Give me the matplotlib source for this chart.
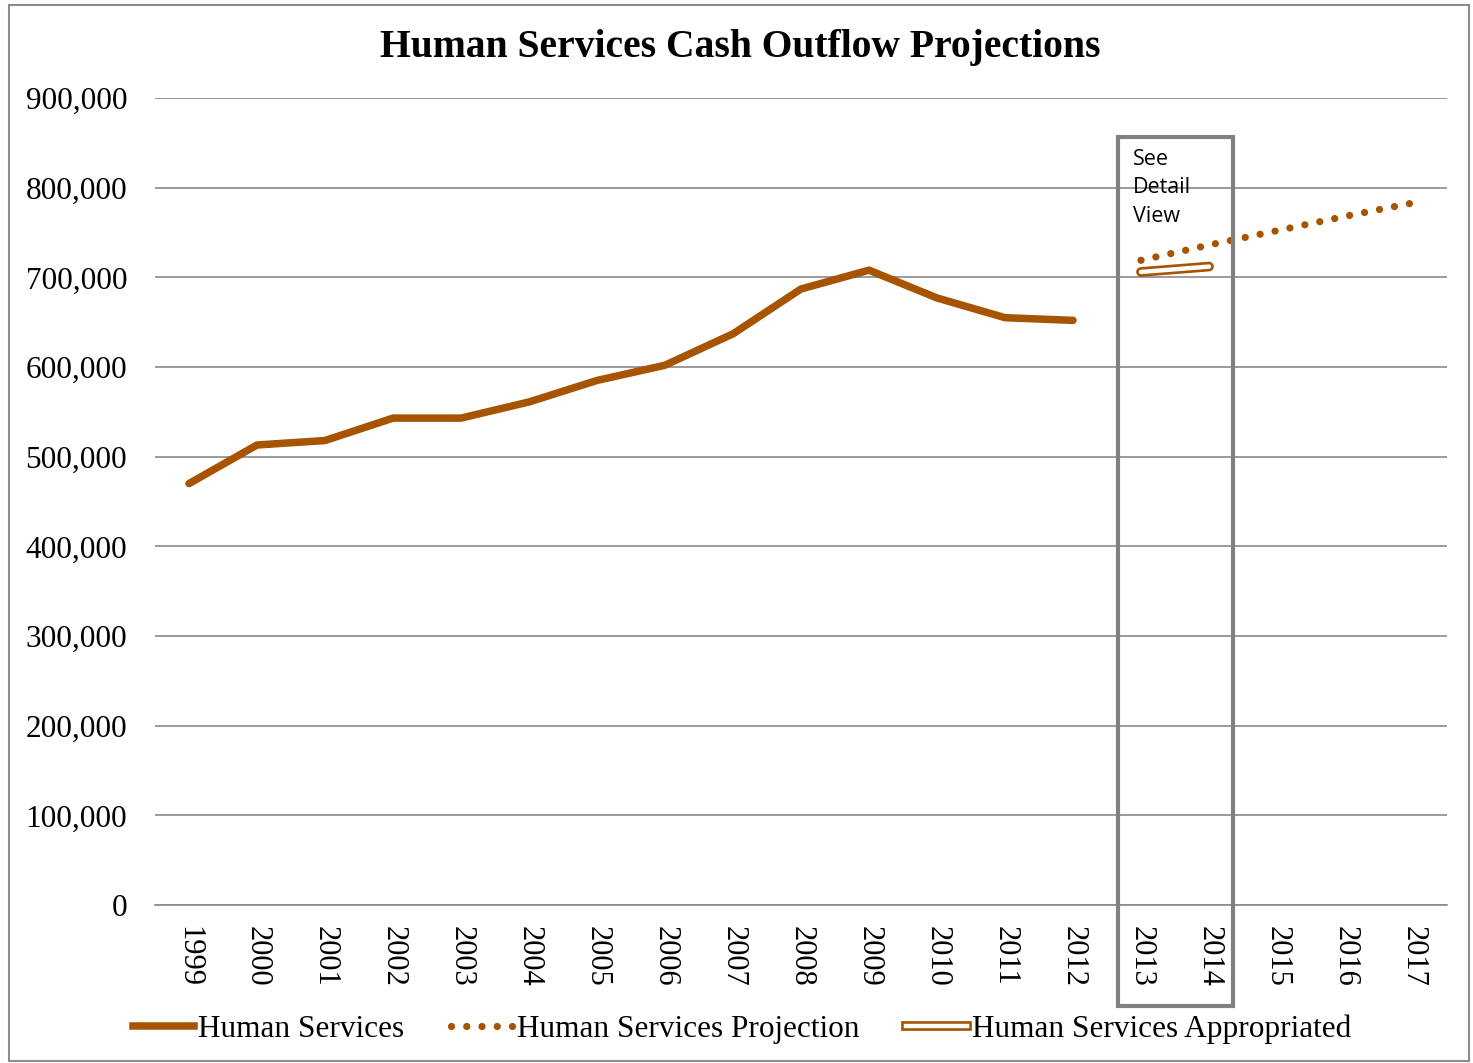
import matplotlib
matplotlib.use("Agg")
import matplotlib.pyplot as plt
import numpy as np
from matplotlib.lines import Line2D
from matplotlib.patches import Rectangle
from matplotlib.legend_handler import HandlerTuple
from matplotlib.ticker import FuncFormatter

years = [str(y) for y in range(1999, 2018)]
actual_years = years[:14]
actual = [470000, 513000, 518000, 543000, 543000, 561000, 585000, 602000,
          637000, 687000, 708000, 677000, 655000, 652000]
projection_years = ["2013", "2014", "2015", "2016", "2017"]
projection = [719000, 736000, 752000, 768000, 783000]
appropriated_years = ["2013", "2014"]
appropriated = [706000, 712000]

brown = "#A65400"
grid_gray = "#8a8a8a"
serif = "Liberation Serif"

fig = plt.figure(figsize=(14.73, 10.63), dpi=100)
ax = fig.add_axes([155 / 1473, 1 - 905 / 1063, 1292 / 1473, 807 / 1063])

idx = {y: i for i, y in enumerate(years)}
xa = [idx[y] for y in actual_years]
xp = [idx[y] for y in projection_years]
xq = [idx[y] for y in appropriated_years]

dot_style = (0, (0.01, 2.1))

ax.plot(xa, actual, color=brown, lw=5.4, solid_capstyle="round",
        solid_joinstyle="round", zorder=3)
ax.plot(xp, projection, color=brown, lw=5.2, linestyle=dot_style,
        dash_capstyle="round", zorder=3)
ax.plot(xq, appropriated, color=brown, lw=7.0, solid_capstyle="round", zorder=3)
ax.plot(xq, appropriated, color="white", lw=3.2, solid_capstyle="round", zorder=4)

ax.set_xlim(-0.5, len(years) - 0.5)
ax.set_ylim(0, 900000)
ax.set_yticks(np.arange(0, 900001, 100000))
ax.yaxis.set_major_formatter(FuncFormatter(lambda v, p: f"{int(v):,}"))
ax.set_xticks(range(len(years)))
ax.set_xticklabels(years, rotation=-90, fontsize=22, family=serif)
for lab in ax.get_yticklabels():
    lab.set_family(serif)
    lab.set_fontsize(22.5)
ax.tick_params(axis="both", length=0)
ax.tick_params(axis="y", pad=20)
ax.tick_params(axis="x", pad=15)
ax.grid(axis="y", color=grid_gray, lw=1.2)
ax.set_axisbelow(True)
for s in ["left", "right", "top"]:
    ax.spines[s].set_visible(False)
ax.spines["bottom"].set_color(grid_gray)
ax.spines["bottom"].set_linewidth(1.2)

# Highlight box around the detail-view years
box = Rectangle((13.66, -112500), 1.69, 969000, fill=False,
                edgecolor="#808080", lw=3.0, clip_on=False, zorder=5)
ax.add_patch(box)
ax.text(13.88, 843000, "See\nDetail\nView", fontsize=15.5, family="Open Sans",
        va="top", ha="left", linespacing=1.45, zorder=6)

fig.text(740 / 1473, 1 - 48 / 1063, "Human Services Cash Outflow Projections",
         ha="center", va="center", fontsize=28.5, fontweight="bold", family=serif)

h1 = Line2D([], [], color=brown, lw=5.4)
h2 = Line2D([], [], color=brown, lw=5.2, linestyle=dot_style,
            dash_capstyle="round")
h3a = Line2D([], [], color=brown, lw=7.0)
h3b = Line2D([], [], color="white", lw=3.2)
fig.legend([h1, h2, (h3a, h3b)],
           ["Human Services", "Human Services Projection",
            "Human Services Appropriated"],
           handler_map={tuple: HandlerTuple(ndivide=1)},
           loc="center", bbox_to_anchor=(742 / 1473, 1 - 1029 / 1063),
           ncol=3, frameon=False, prop={"family": serif, "size": 22.5},
           handlelength=1.95, handletextpad=0.15, columnspacing=1.5)

fig.add_artist(Rectangle((9 / 1473, 2 / 1063), 1460 / 1473, 1056 / 1063,
                         transform=fig.transFigure, fill=False,
                         edgecolor="#8c8c8c", lw=1.5))

fig.savefig("out.png", dpi=100)
